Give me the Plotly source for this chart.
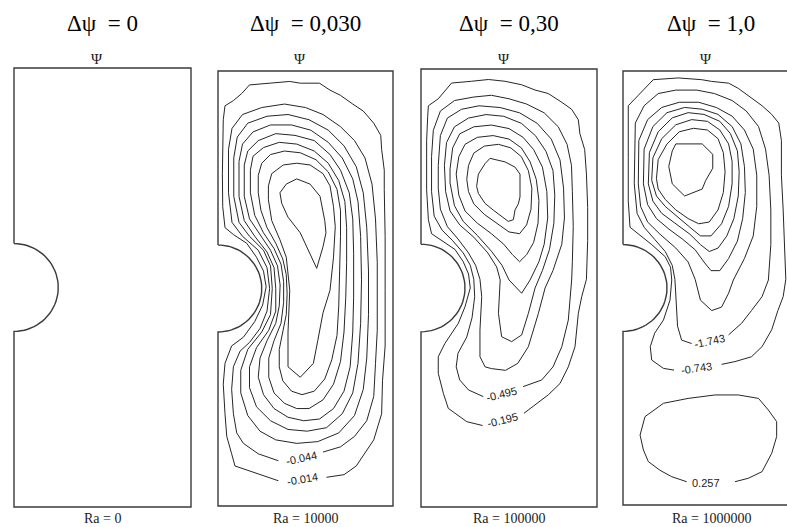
import numpy as np
import plotly.graph_objects as go

# ---------------- data ----------------
CAV_W, CAV_H, CYL_R = 1.0, 2.5, 0.25          # cavity width, height, half-cylinder radius
RA_TEXT = ["Ra = 0", "Ra = 10000", "Ra = 100000", "Ra = 1000000"]
DPSI_TEXT = ["Δψ\u2002= 0", "Δψ\u2002= 0,030", "Δψ\u2002= 0,30", "Δψ\u2002= 1,0"]
PSI_TEXT = "Ψ"
G = (None, None)  # gap where a level label sits

# Ra = 1e4 stream-function iso-lines (x, y in cavity units)
RA4_C1 = [(0.03,2.22),(0.04,2.30),(0.088,2.33),(0.135,2.37),(0.18,2.42),(0.30,2.43),(0.41,2.44),(0.47,2.43),(0.58,2.43),(0.64,2.39),(0.70,2.36),(0.77,2.31),(0.83,2.27),(0.89,2.20),(0.93,2.13),(0.935,2.05),(0.95,1.93),(0.95,1.82),(0.955,1.55),(0.955,1.24),(0.955,0.92),(0.94,0.72),(0.935,0.53),(0.89,0.38),(0.79,0.23),(0.72,0.18),(0.62,0.165),G,(0.345,0.145),(0.27,0.17),(0.18,0.20),(0.097,0.23),(0.078,0.30),(0.05,0.40),(0.04,0.53),(0.03,0.70),(0.04,0.82),(0.078,0.92),(0.145,0.97),(0.21,1.06),(0.255,1.155),(0.275,1.26),(0.26,1.35),(0.22,1.43),(0.164,1.51),(0.088,1.56),(0.04,1.60),(0.027,1.72),(0.025,1.91),(0.027,2.10),(0.03,2.22)]
RA4_C2 = [(0.06,2.05),(0.08,2.17),(0.14,2.25),(0.25,2.29),(0.38,2.31),(0.5,2.29),(0.6,2.25),(0.7,2.18),(0.78,2.1),(0.84,2.0),(0.88,1.85),(0.90,1.65),(0.91,1.4),(0.91,1.30),(0.91,1.01),(0.90,0.82),(0.89,0.63),(0.85,0.49),(0.78,0.40),(0.70,0.34),(0.60,0.31),G,(0.345,0.26),(0.23,0.30),(0.145,0.36),(0.107,0.42),(0.088,0.53),(0.078,0.67),(0.088,0.80),(0.126,0.89),(0.18,0.94),(0.24,1.02),(0.28,1.12),(0.295,1.25),(0.28,1.37),(0.23,1.47),(0.14,1.55),(0.08,1.63),(0.06,1.8),(0.06,2.05)]
RA4_C3 = [(0.09,2.0),(0.11,2.12),(0.17,2.20),(0.28,2.24),(0.40,2.25),(0.52,2.22),(0.63,2.16),(0.72,2.07),(0.79,1.95),(0.83,1.80),(0.85,1.6),(0.86,1.35),(0.86,1.1),(0.85,0.85),(0.83,0.67),(0.78,0.52),(0.69,0.42),(0.57,0.37),(0.45,0.36),(0.33,0.38),(0.24,0.43),(0.17,0.52),(0.13,0.65),(0.13,0.78),(0.17,0.90),(0.25,1.0),(0.30,1.1),(0.31,1.25),(0.30,1.38),(0.26,1.47),(0.18,1.55),(0.12,1.63),(0.09,1.78),(0.09,2.0)]
RA4_C4 = [(0.12,1.98),(0.14,2.08),(0.20,2.15),(0.30,2.19),(0.42,2.19),(0.53,2.16),(0.63,2.09),(0.71,2.0),(0.77,1.88),(0.80,1.75),(0.815,1.55),(0.82,1.3),(0.815,1.05),(0.80,0.82),(0.77,0.65),(0.71,0.53),(0.62,0.45),(0.51,0.43),(0.40,0.44),(0.30,0.49),(0.22,0.57),(0.18,0.68),(0.18,0.80),(0.22,0.91),(0.29,1.01),(0.33,1.12),(0.33,1.25),(0.32,1.37),(0.28,1.46),(0.21,1.55),(0.15,1.64),(0.12,1.78),(0.12,1.98)]
RA4_C5 = [(0.15,1.96),(0.17,2.04),(0.23,2.10),(0.33,2.14),(0.44,2.13),(0.55,2.10),(0.64,2.02),(0.70,1.93),(0.75,1.80),(0.77,1.65),(0.775,1.45),(0.775,1.2),(0.77,1.0),(0.755,0.8),(0.72,0.66),(0.66,0.56),(0.58,0.50),(0.49,0.49),(0.40,0.51),(0.32,0.56),(0.26,0.64),(0.23,0.74),(0.24,0.85),(0.28,0.95),(0.33,1.05),(0.35,1.15),(0.355,1.27),(0.34,1.38),(0.30,1.47),(0.24,1.56),(0.18,1.65),(0.15,1.78),(0.15,1.96)]
RA4_C6 = [(0.185,1.93),(0.20,2.01),(0.26,2.06),(0.35,2.09),(0.45,2.08),(0.55,2.04),(0.63,1.97),(0.69,1.87),(0.725,1.75),(0.735,1.6),(0.735,1.4),(0.73,1.2),(0.72,1.0),(0.70,0.83),(0.66,0.70),(0.60,0.61),(0.52,0.56),(0.45,0.56),(0.38,0.59),(0.32,0.65),(0.29,0.74),(0.29,0.85),(0.32,0.95),(0.36,1.05),(0.375,1.17),(0.375,1.29),(0.36,1.39),(0.32,1.48),(0.26,1.57),(0.21,1.67),(0.185,1.80),(0.185,1.93)]
RA4_C7 = [(0.23,1.90),(0.25,1.97),(0.30,2.02),(0.38,2.04),(0.47,2.03),(0.56,1.99),(0.63,1.92),(0.68,1.82),(0.70,1.70),(0.70,1.55),(0.695,1.35),(0.69,1.15),(0.68,0.98),(0.65,0.84),(0.61,0.73),(0.55,0.66),(0.48,0.64),(0.42,0.66),(0.37,0.72),(0.35,0.80),(0.35,0.90),(0.37,1.0),(0.39,1.10),(0.395,1.22),(0.39,1.33),(0.37,1.42),(0.33,1.51),(0.28,1.60),(0.245,1.70),(0.23,1.80),(0.23,1.90)]
RA4_C8 = [(0.288,1.84),(0.307,1.91),(0.373,1.96),(0.45,1.97),(0.526,1.96),(0.60,1.91),(0.64,1.84),(0.66,1.72),(0.67,1.605),(0.66,1.43),(0.64,1.24),(0.60,1.11),(0.57,0.95),(0.545,0.82),(0.47,0.74),(0.40,0.80),(0.40,1.0),(0.41,1.24),(0.39,1.43),(0.354,1.53),(0.307,1.64),(0.288,1.76),(0.288,1.84)]
RA4_C9 = [(0.354,1.80),(0.39,1.85),(0.45,1.88),(0.526,1.85),(0.583,1.78),(0.61,1.64),(0.617,1.57),(0.60,1.49),(0.564,1.366),(0.526,1.45),(0.47,1.57),(0.40,1.66),(0.364,1.74),(0.354,1.80)]
RA4_LEVEL_TEXT = [("-0.014", 0.484, 0.153, -10), ("-0.044", 0.478, 0.274, -12)]

# Ra = 1e5
RA5_C1 = [(0.038,2.23),(0.042,2.29),(0.098,2.33),(0.174,2.42),(0.288,2.43),(0.383,2.44),(0.477,2.43),(0.572,2.41),(0.648,2.38),(0.723,2.36),(0.80,2.31),(0.856,2.27),(0.894,2.21),(0.903,2.13),(0.93,2.04),(0.94,1.90),(0.947,1.71),(0.947,1.52),(0.94,1.30),(0.913,1.2),(0.894,1.105),(0.875,0.915),(0.837,0.80),(0.79,0.705),(0.723,0.64),(0.648,0.58),(0.585,0.535),G,(0.35,0.465),(0.26,0.487),(0.155,0.563),(0.127,0.649),(0.098,0.763),(0.098,0.858),(0.136,0.934),(0.212,1.048),(0.25,1.143),(0.28,1.25),(0.27,1.33),(0.24,1.40),(0.193,1.47),(0.117,1.52),(0.06,1.56),(0.042,1.64),(0.032,1.81),(0.032,2.09),(0.038,2.23)]
RA5_C2 = [(0.06,2.0),(0.07,2.15),(0.11,2.26),(0.19,2.32),(0.30,2.34),(0.40,2.35),(0.50,2.33),(0.60,2.30),(0.70,2.25),(0.78,2.17),(0.83,2.07),(0.855,1.95),(0.86,1.80),(0.865,1.6),(0.86,1.40),(0.856,1.296),(0.837,1.067),(0.80,0.915),(0.75,0.80),(0.686,0.725),(0.58,0.687),G,(0.354,0.63),(0.27,0.668),(0.22,0.725),(0.20,0.80),(0.21,0.877),(0.26,0.97),(0.29,1.08),(0.305,1.2),(0.30,1.30),(0.28,1.38),(0.24,1.45),(0.18,1.52),(0.12,1.58),(0.075,1.66),(0.06,1.80),(0.06,2.0)]
RA5_C3 = [(0.098,1.95),(0.11,2.12),(0.15,2.22),(0.23,2.27),(0.33,2.29),(0.45,2.28),(0.56,2.25),(0.66,2.19),(0.74,2.10),(0.79,1.98),(0.81,1.82),(0.815,1.65),(0.80,1.50),(0.75,1.35),(0.705,1.25),(0.667,1.105),(0.61,0.915),(0.55,0.82),(0.48,0.78),(0.40,0.79),(0.364,0.80),(0.335,0.858),(0.335,1.01),(0.345,1.2),(0.335,1.30),(0.31,1.38),(0.27,1.45),(0.21,1.53),(0.15,1.60),(0.11,1.70),(0.098,1.82),(0.098,1.95)]
RA5_C4 = [(0.133,1.95),(0.145,2.08),(0.19,2.17),(0.27,2.22),(0.37,2.24),(0.47,2.23),(0.57,2.19),(0.65,2.12),(0.71,2.03),(0.75,1.92),(0.76,1.78),(0.755,1.62),(0.73,1.47),(0.69,1.35),(0.648,1.25),(0.61,1.105),(0.572,0.982),(0.515,0.944),(0.458,0.972),(0.44,1.105),(0.45,1.296),(0.43,1.37),(0.38,1.45),(0.30,1.54),(0.22,1.61),(0.165,1.69),(0.14,1.80),(0.133,1.95)]
RA5_C5 = [(0.165,1.93),(0.18,2.05),(0.22,2.13),(0.30,2.17),(0.40,2.18),(0.50,2.16),(0.58,2.11),(0.64,2.04),(0.69,1.94),(0.715,1.80),(0.72,1.65),(0.70,1.50),(0.67,1.40),(0.62,1.296),(0.572,1.22),(0.50,1.296),(0.46,1.38),(0.40,1.46),(0.32,1.55),(0.24,1.63),(0.19,1.72),(0.165,1.85),(0.165,1.93)]
RA5_C6 = [(0.20,1.90),(0.215,2.0),(0.25,2.07),(0.32,2.11),(0.41,2.12),(0.50,2.10),(0.57,2.05),(0.62,1.97),(0.655,1.87),(0.67,1.75),(0.665,1.62),(0.64,1.51),(0.60,1.44),(0.56,1.40),(0.52,1.44),(0.47,1.50),(0.40,1.56),(0.32,1.62),(0.25,1.69),(0.215,1.78),(0.20,1.90)]
RA5_C7 = [(0.26,1.87),(0.27,1.95),(0.30,2.02),(0.36,2.06),(0.44,2.07),(0.51,2.05),(0.57,2.0),(0.61,1.92),(0.63,1.82),(0.625,1.70),(0.60,1.61),(0.56,1.56),(0.50,1.57),(0.43,1.62),(0.36,1.67),(0.30,1.73),(0.27,1.80),(0.26,1.87)]
RA5_C8 = [(0.316,1.83),(0.326,1.90),(0.364,1.96),(0.392,1.99),(0.477,1.97),(0.534,1.94),(0.5625,1.90),(0.5625,1.77),(0.553,1.73),(0.534,1.695),(0.525,1.64),(0.496,1.63),(0.41,1.695),(0.364,1.733),(0.326,1.79),(0.316,1.83)]
RA5_LEVEL_TEXT = [("-0.495", 0.459, 0.645, -14), ("-0.195", 0.462, 0.497, -14)]

# Ra = 1e6
RA6_C1 = [(0.03,2.0),(0.03,2.30),(0.087,2.36),(0.172,2.45),(0.314,2.46),(0.447,2.45),(0.504,2.44),(0.60,2.43),(0.655,2.40),(0.71,2.36),(0.79,2.30),(0.845,2.25),(0.885,2.20),(0.90,2.10),(0.90,1.90),(0.91,1.70),(0.92,1.45),(0.925,1.30),(0.91,1.20),(0.88,1.12),(0.845,1.01),(0.79,0.912),(0.73,0.854),(0.636,0.826),(0.56,0.81),G,(0.29,0.777),(0.23,0.787),(0.163,0.835),(0.155,0.912),(0.18,0.99),(0.23,1.066),(0.267,1.18),(0.277,1.296),(0.27,1.37),(0.24,1.43),(0.163,1.50),(0.09,1.56),(0.04,1.60),(0.03,1.75),(0.03,2.0)]
RA6_C2 = [(0.064,1.85),(0.07,2.2),(0.12,2.3),(0.20,2.37),(0.30,2.39),(0.42,2.39),(0.52,2.37),(0.62,2.33),(0.70,2.27),(0.77,2.18),(0.81,2.05),(0.83,1.90),(0.84,1.70),(0.84,1.5),(0.826,1.296),(0.79,1.2),(0.73,1.12),(0.674,1.047),(0.60,0.98),G,(0.39,0.93),(0.333,0.95),(0.31,1.03),(0.305,1.104),(0.30,1.20),(0.295,1.30),(0.28,1.38),(0.24,1.46),(0.18,1.53),(0.12,1.60),(0.08,1.68),(0.064,1.85)]
RA6_C3 = [(0.087,1.85),(0.09,2.10),(0.14,2.22),(0.22,2.29),(0.32,2.32),(0.43,2.32),(0.53,2.29),(0.62,2.24),(0.69,2.16),(0.74,2.05),(0.76,1.90),(0.76,1.72),(0.74,1.55),(0.69,1.42),(0.627,1.296),(0.60,1.22),(0.56,1.14),(0.504,1.12),(0.44,1.18),(0.41,1.30),(0.37,1.40),(0.30,1.48),(0.21,1.56),(0.14,1.63),(0.10,1.72),(0.087,1.85)]
RA6_C4 = [(0.116,1.85),(0.12,2.05),(0.17,2.18),(0.25,2.26),(0.35,2.29),(0.45,2.28),(0.54,2.25),(0.62,2.18),(0.67,2.08),(0.69,1.95),(0.695,1.80),(0.68,1.65),(0.65,1.52),(0.60,1.42),(0.55,1.35),(0.50,1.35),(0.46,1.40),(0.41,1.47),(0.34,1.53),(0.26,1.59),(0.19,1.65),(0.14,1.73),(0.116,1.85)]
RA6_C5 = [(0.144,1.85),(0.15,2.03),(0.20,2.15),(0.28,2.23),(0.37,2.26),(0.46,2.25),(0.55,2.21),(0.61,2.14),(0.65,2.04),(0.66,1.92),(0.655,1.78),(0.63,1.65),(0.59,1.55),(0.54,1.48),(0.49,1.46),(0.44,1.50),(0.38,1.56),(0.30,1.62),(0.22,1.68),(0.17,1.75),(0.144,1.85)]
RA6_C6 = [(0.163,1.87),(0.17,2.0),(0.22,2.11),(0.30,2.19),(0.39,2.22),(0.48,2.21),(0.55,2.16),(0.60,2.08),(0.62,1.98),(0.62,1.85),(0.60,1.72),(0.56,1.62),(0.50,1.55),(0.44,1.55),(0.38,1.60),(0.31,1.66),(0.24,1.72),(0.19,1.78),(0.163,1.87)]
RA6_C7 = [(0.19,1.88),(0.20,1.99),(0.25,2.08),(0.32,2.15),(0.40,2.17),(0.48,2.16),(0.54,2.11),(0.57,2.03),(0.58,1.92),(0.57,1.80),(0.54,1.70),(0.49,1.63),(0.43,1.62),(0.37,1.65),(0.30,1.70),(0.24,1.76),(0.20,1.82),(0.19,1.88)]
RA6_C8 = [(0.30,2.08),(0.45,2.08),(0.51,2.02),(0.51,1.94),(0.47,1.87),(0.45,1.82),(0.35,1.78),(0.28,1.85),(0.26,1.95),(0.28,2.04),(0.30,2.08)]
RA6_P1 = [(0.125,0.509),(0.23,0.586),(0.37,0.614),(0.523,0.634),(0.655,0.634),(0.77,0.614),(0.826,0.547),(0.873,0.48),(0.873,0.394),(0.845,0.298),(0.79,0.192),(0.712,0.154),(0.636,0.134),G,(0.362,0.134),(0.277,0.163),(0.21,0.20),(0.144,0.25),(0.116,0.317),(0.097,0.403),(0.125,0.509)]
RA6_LEVEL_TEXT = [("-1.743", 0.494, 0.946, -12), ("-0.743", 0.419, 0.787, -8), ("0.257", 0.47, 0.125, 0)]

PANEL_LINES = [[], [RA4_C1, RA4_C2, RA4_C3, RA4_C4, RA4_C5, RA4_C6, RA4_C7, RA4_C8, RA4_C9],
               [RA5_C1, RA5_C2, RA5_C3, RA5_C4, RA5_C5, RA5_C6, RA5_C7, RA5_C8],
               [RA6_C1, RA6_C2, RA6_C3, RA6_C4, RA6_C5, RA6_C6, RA6_C7, RA6_C8, RA6_P1]]
PANEL_LEVELS = [[], RA4_LEVEL_TEXT, RA5_LEVEL_TEXT, RA6_LEVEL_TEXT]

# ---------------- layout (pixels of the 787x527 canvas) ----------------
FW, FH = 787, 527
BOXES = [(14, 191, 68, 507), (218, 393, 71, 506), (421, 597, 69, 507), (623, 799, 71, 505)]
PAD = 4

fig = go.Figure()

theta = np.linspace(-np.pi / 2, np.pi / 2, 41)
arc_x = list(CYL_R * np.cos(theta))
arc_y = list(CAV_H / 2 + CYL_R * np.sin(theta))
frame_x = [0, 0, CAV_W, CAV_W, 0, 0] + arc_x
frame_y = [CAV_H / 2 + CYL_R, CAV_H, CAV_H, 0, 0, CAV_H / 2 - CYL_R] + arc_y

serif = "Liberation Serif"
sans = "Liberation Sans"
annotations = []
for i, (L, R, T, B) in enumerate(BOXES):
    n = "" if i == 0 else str(i + 1)
    sx = (R - L) / CAV_W
    sy = (B - T) / CAV_H
    xd0 = (L - PAD) / FW
    xd1 = min(1.0, (R + PAD) / FW)
    xr1 = (min(FW, R + PAD) - L) / sx
    fig.update_layout(**{
        f"xaxis{n}": dict(domain=[xd0, xd1], range=[-PAD / sx, xr1], visible=False, fixedrange=True),
        f"yaxis{n}": dict(domain=[1 - (B + PAD) / FH, 1 - (T - PAD) / FH],
                          range=[-PAD / sy, CAV_H + PAD / sy], visible=False, fixedrange=True),
    })
    xa, ya = "x" + n, "y" + n
    fig.add_trace(go.Scatter(x=frame_x, y=frame_y, mode="lines", xaxis=xa, yaxis=ya,
                             line=dict(color="#3a3a3a", width=1.4), hoverinfo="skip", showlegend=False))
    for line in PANEL_LINES[i]:
        fig.add_trace(go.Scatter(x=[p[0] for p in line], y=[p[1] for p in line], mode="lines",
                                 xaxis=xa, yaxis=ya, connectgaps=False,
                                 line=dict(color="#262626", width=1), hoverinfo="skip", showlegend=False))
    for txt, lx, ly, ang in PANEL_LEVELS[i]:
        annotations.append(dict(text=txt, x=lx, y=ly, xref=xa, yref=ya, showarrow=False,
                                xanchor="center", yanchor="middle",
                                textangle=ang, font=dict(family=sans, size=11, color="#222")))
    annotations.append(dict(text=DPSI_TEXT[i], x=0.5, y=1 - 23 / FH, xref=xa, yref="paper",
                            xanchor="center", yanchor="middle",
                            showarrow=False, font=dict(family=serif, size=23, color="#000")))
    annotations.append(dict(text=PSI_TEXT, x=0.47, y=1 - 59 / FH, xref=xa, yref="paper",
                            xanchor="center", yanchor="middle",
                            showarrow=False, font=dict(family=serif, size=15, color="#222")))
    annotations.append(dict(text=RA_TEXT[i], x=0.5, y=1 - 518 / FH, xref=xa, yref="paper",
                            xanchor="center", yanchor="middle",
                            showarrow=False, font=dict(family=serif, size=14, color="#222")))

fig.update_layout(width=FW, height=FH, margin=dict(l=0, r=0, t=0, b=0),
                  paper_bgcolor="white", plot_bgcolor="white", annotations=annotations)
fig.write_html("out.html")
